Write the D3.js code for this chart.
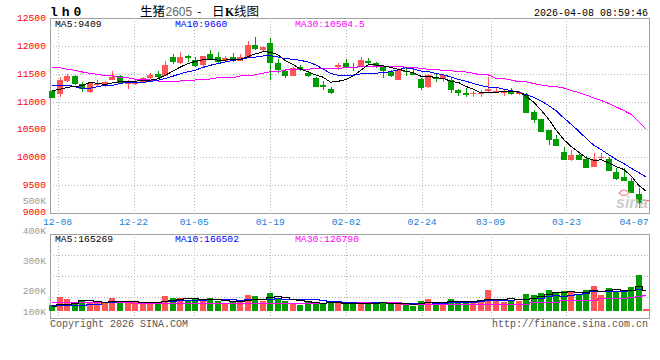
<!DOCTYPE html>
<html><head><meta charset="utf-8">
<script src="https://cdn.jsdelivr.net/npm/d3@7"></script>
<style>body{margin:0;background:#fff}svg{display:block}</style>
</head><body>
<svg id="chart" width="660" height="360"></svg>
<script>
// ---------- data ----------
const opens  = [11190,11130,11369,11459,11310,11177,11290,11279,11387,11459,
                11316,11316,11346,11418,11489,11459,11795,11687,11823,11746,
                11656,11854,11795,11728,11795,11734,11805,12015,11926,12046,
                11698,11549,11464,11626,11507,11428,11300,11226,11626,11687,
                11615,11626,11728,11687,11615,11536,11387,11554,11518,11405,
                11267,11446,11405,11387,11208,11159,11130,11130,11190,11159,
                11159,11190,11130,11118,10818,10682,10490,10328,10100,9951,
                10041,9964,9831,9982,9964,9730,9641,9574,9341,9225];
const closes = [11069,11387,11459,11310,11220,11339,11315,11357,11446,11328,
                11339,11357,11418,11477,11446,11656,11716,11795,11787,11638,
                11818,11759,11716,11787,11728,11795,12015,11944,11985,11698,
                11567,11464,11608,11585,11464,11267,11267,11159,11656,11626,
                11597,11746,11687,11626,11554,11464,11567,11525,11477,11249,
                11477,11405,11477,11208,11148,11123,11148,11148,11220,11195,
                11177,11130,11177,10800,10669,10459,10310,10208,9951,10041,
                9951,9813,9964,10005,9759,9605,9574,9353,9185,9225];
const highs  = [11208,11446,11489,11477,11357,11357,11385,11370,11549,11477,
                11387,11387,11436,11507,11549,11728,11848,11884,11836,11806,
                11818,11926,11884,11818,11866,11854,12087,12154,12003,12136,
                11759,11579,11620,11656,11536,11446,11370,11267,11698,11764,
                11687,11806,11777,11716,11638,11567,11597,11597,11597,11418,
                11495,11507,11489,11418,11226,11238,11195,11208,11436,11238,
                11220,11238,11195,11148,10849,10690,10490,10400,10190,10130,
                10100,10023,10071,10071,10010,9802,9802,9622,9454,9225];
const lows   = [11069,11087,11346,11297,11177,11148,11265,11267,11387,11328,
                11226,11297,11328,11400,11400,11459,11669,11669,11705,11626,
                11608,11746,11669,11716,11716,11728,11805,11926,11913,11387,
                11518,11428,11464,11554,11436,11267,11208,11136,11567,11597,
                11554,11615,11656,11597,11418,11446,11387,11464,11477,11208,
                11249,11357,11357,11159,11105,11087,11077,11077,11177,11148,
                11100,11118,11118,10790,10621,10459,10220,10208,9951,9933,
                9951,9813,9831,9951,9759,9592,9574,9353,9095,9225];
const volumes = [48900,116500,97800,70900,81500,70900,75800,62800,108400,62800,
                 62800,70900,59500,70900,70900,124700,108400,108400,89600,97800,
                 81500,108400,81500,62800,70900,75800,130400,124700,81500,149100,
                 103500,81500,57000,48900,81500,70900,62800,70900,62800,54600,
                 62800,70900,62800,70900,62800,57000,57000,48900,43200,81500,
                 97800,57000,70900,97800,81500,81500,62800,89600,171200,81500,
                 70900,81500,81500,138600,130400,149100,171200,149100,163000,157300,
                 130400,171200,203800,130400,189900,163000,157300,195600,293400,16300];
// moving-average values before enough in-chart history exists
const ma5Head  = [11195,11220,11256,11270];
const ma10Head = [11297,11297,11297,11267,11238,11238,11267,11292,11292];
const ma30 = [11608,11608,11579,11561,11531,11507,11489,11464,11464,11428,
              11428,11400,11400,11387,11369,11369,11369,11369,11378,11387,
              11405,11405,11428,11428,11428,11459,11459,11482,11507,11536,
              11536,11567,11579,11579,11579,11597,11597,11597,11597,11608,
              11608,11629,11638,11638,11638,11633,11633,11615,11612,11597,
              11579,11579,11554,11554,11531,11531,11507,11477,11477,11416,
              11416,11387,11357,11357,11324,11297,11279,11267,11243,11199,
              11163,11118,11064,11019,10965,10902,10839,10768,10640,10504.5];
const volMa5Head  = [35000,54600,54600,62800];
const volMa10Head = [40800,40800,48900,48900,48900,57000,57000,70900,70900];
const volMa30 = [70900,70900,70900,70900,70900,70900,70900,70900,70900,70900,
                 70900,62800,62800,62800,62800,62800,62800,62800,62800,62800,
                 62800,62800,62800,62800,62800,62800,62800,62800,62800,62800,
                 62800,62800,62800,62800,62800,62800,62800,70900,70900,70900,
                 70900,70900,70900,70900,70900,70900,70900,57000,57000,57000,
                 57000,57000,57000,57000,57000,57000,57000,57000,57000,57000,
                 57000,57000,57000,57000,70900,70900,70900,70900,89600,89600,
                 89600,89600,89600,97800,97800,97800,97800,108000,116500,126790];
const tickIndex  = [1,11,19,29,39,49,58,68,78];
const tickLabels = ['12-08','12-22','01-05','01-19','02-02','02-24','03-09','03-23','04-07'];
const priceTicks = [12500,12000,11500,11000,10500,10000,9500,9000];
const volTicks = [500000,400000,300000,200000,100000];
const volTickLabels = ['500K','400K','300K','200K','100K'];
const maLabels = ['MA5:9409','MA10:9660','MA30:10504.5'];
const volMaLabels = ['MA5:165269','MA10:166502','MA30:126790'];
const timestamp = '2026-04-08 08:59:46';

// ---------- derived ----------
function movingAvg(arr, n, head){
  return arr.map((_, i) => i < n - 1 ? head[i] : d3.mean(arr.slice(i - n + 1, i + 1)));
}
const ma5 = movingAvg(closes, 5, ma5Head);
const ma10 = movingAvg(closes, 10, ma10Head);
const volMa5 = movingAvg(volumes, 5, volMa5Head);
const volMa10 = movingAvg(volumes, 10, volMa10Head);
const idx = d3.range(closes.length);

// ---------- layout ----------
const L = 50, R = 650, T = 18, B = 213, VT = 234, VB = 318, V0 = 311;
const RED = '#ff5555', GREEN = '#009d00';
const MONO = '"Liberation Mono","DejaVu Sans Mono",monospace';
const svg = d3.select('#chart');

const x  = d3.scaleLinear().domain([0, closes.length - 1]).range([52.3, 646.4]);
const gx = d3.scaleLinear().domain([0, closes.length - 1]).range([L, R]);
const y  = d3.scaleLinear().domain([9000, 12500]).range([B, T]);
const yv = d3.scaleLinear().domain([0, 627500]).range([V0, VT]);
const yvq = d3.scaleLinear().domain([0, 4]).range([VT, VB]);
const yvLabel = d3.scaleLinear().domain([200000, 500000]).range([294, 204]);

const crisp = v => Math.round(v) + 0.5;

// grid: main
const g = svg.append('g').attr('stroke', '#b4b4b4').attr('stroke-dasharray', '1,2').attr('fill', 'none');
priceTicks.slice(1, -1).forEach(p => {
  g.append('line').attr('x1', L).attr('x2', R).attr('y1', crisp(y(p))).attr('y2', crisp(y(p)));
});
tickIndex.slice(0, -1).forEach(i => {
  g.append('line').attr('x1', crisp(gx(i))).attr('x2', crisp(gx(i))).attr('y1', T).attr('y2', B);
  g.append('line').attr('x1', crisp(gx(i))).attr('x2', crisp(gx(i))).attr('y1', VT).attr('y2', VB);
});
[1, 2, 3].forEach(q => {
  g.append('line').attr('x1', L).attr('x2', R).attr('y1', crisp(yvq(q))).attr('y2', crisp(yvq(q)));
});

// borders
const bd = svg.append('g').attr('stroke', '#a0a0a0').attr('fill', 'none').attr('stroke-width', 1);
bd.append('rect').attr('x', L + 0.5).attr('y', T + 0.5).attr('width', R - L - 1).attr('height', B - T);
bd.append('rect').attr('x', L + 0.5).attr('y', VT + 0.5).attr('width', R - L - 1).attr('height', VB - VT);

// candles
const cg = svg.append('g').attr('shape-rendering', 'crispEdges');
idx.forEach(i => {
  const up = closes[i] >= opens[i];
  const col = up ? RED : GREEN;
  const cx = Math.round(x(i));
  const yH = y(highs[i]), yL = y(lows[i]);
  cg.append('rect').attr('x', cx).attr('y', yH).attr('width', 1).attr('height', Math.max(1, yL - yH)).attr('fill', col);
  const top = y(Math.max(opens[i], closes[i])), bot = y(Math.min(opens[i], closes[i]));
  cg.append('rect').attr('x', cx - 3).attr('y', top).attr('width', 6).attr('height', Math.max(1, bot - top)).attr('fill', col);
  // volume
  cg.append('rect').attr('x', cx - 3).attr('y', yv(volumes[i])).attr('width', 6)
    .attr('height', Math.max(1, V0 - yv(volumes[i]))).attr('fill', col);
});

// watermark
const wm = svg.append('g');
wm.append('text').attr('x', 616).attr('y', 208).text('sina')
  .attr('font-family', '"Liberation Sans",Arial,sans-serif').attr('font-size', 16)
  .attr('font-weight', 'bold').attr('font-style', 'italic').attr('fill', '#c4c4c4').attr('opacity', 0.85);
wm.append('path').attr('d', 'M619,193 q5,-6 10,0 q-5,5 -10,0z').attr('fill', 'none').attr('stroke', '#f0a0a0').attr('stroke-width', 1.5);

// MA lines
const lineP = d3.line().x(i => x(i));
function drawLine(vals, scale, color, curve){
  svg.append('path').datum(idx)
    .attr('d', d3.line().x(i => x(i)).y(i => scale(vals[i])).curve(curve || d3.curveLinear))
    .attr('fill', 'none').attr('stroke', color).attr('stroke-width', 1)
    .attr('shape-rendering', 'crispEdges');
}
drawLine(ma30, y, '#ff00ff');
drawLine(ma10, y, '#0000ff');
drawLine(ma5, y, '#000000');
drawLine(volMa30, yv, '#ff00ff', d3.curveStep);
drawLine(volMa10, yv, '#0000ff', d3.curveStep);
drawLine(volMa5, yv, '#000000', d3.curveStep);

// price axis labels
const txt = svg.append('g').attr('font-family', MONO).attr('font-size', 9.7);
priceTicks.forEach(p => {
  txt.append('text').attr('x', 46).attr('y', Math.min(215, Math.max(18.5, y(p) + 3)))
    .attr('text-anchor', 'end').attr('fill', '#ff0000').text(p);
});
volTicks.forEach((v, k) => {
  txt.append('text').attr('x', 46).attr('y', Math.min(314.5, yvLabel(v)))
    .attr('text-anchor', 'end').attr('fill', '#9a9a9a').text(volTickLabels[k]);
});
// date labels
tickIndex.forEach((i, k) => {
  const cxl = Math.min(R - 16, gx(i));
  txt.append('text').attr('x', cxl).attr('y', 225).attr('text-anchor', 'middle')
    .attr('fill', '#1a7fd6').text(tickLabels[k]);
});
// MA legends
const maColors = ['#000000', '#0000ff', '#ff00ff'];
const legendX = [55, 175, 295];
maLabels.forEach((t, k) => txt.append('text').attr('x', legendX[k]).attr('y', 27).attr('fill', maColors[k]).text(t));
volMaLabels.forEach((t, k) => txt.append('text').attr('x', legendX[k]).attr('y', 241.5).attr('fill', maColors[k]).text(t));

// header
txt.append('text').attr('x', 648).attr('y', 15.5).attr('text-anchor', 'end').attr('fill', '#000')
  .attr('font-size', 10).text(timestamp);
svg.append('text').attr('x', 50).attr('y', 15.5).attr('font-family', MONO).attr('font-weight', 'bold')
  .attr('font-size', 13).attr('letter-spacing', 4).attr('fill', '#000').text('lh0');
const CJK = '"Noto Sans CJK SC",sans-serif';
const title = svg.append('g').attr('font-size', 12.5);
title.append('text').attr('x', 140).attr('y', 15.5).attr('font-family', CJK).attr('fill', '#000').text('生猪');
title.append('text').attr('x', 165.5).attr('y', 15.5).attr('font-family', '"Liberation Sans",Arial,sans-serif')
  .attr('font-size', 12).attr('fill', '#666').text('2605');
title.append('text').attr('x', 197).attr('y', 15.5).attr('font-family', CJK).attr('fill', '#000').text('-');
title.append('text').attr('x', 212).attr('y', 15.5).attr('font-family', CJK).attr('fill', '#000').text('日');
title.append('text').attr('x', 225).attr('y', 15.5).attr('font-family', '"Liberation Serif",serif')
  .attr('font-weight', 'bold').attr('font-size', 12).attr('fill', '#000').text('K');
title.append('text').attr('x', 234).attr('y', 15.5).attr('font-family', CJK).attr('fill', '#000').text('线图');

// footer
txt.append('text').attr('x', 50).attr('y', 327).attr('fill', '#555').attr('font-size', 10).text('Copyright 2026 SINA.COM');
txt.append('text').attr('x', 648).attr('y', 327).attr('text-anchor', 'end').attr('fill', '#555').attr('font-size', 10).text('http://finance.sina.com.cn');
</script>
</body></html>
